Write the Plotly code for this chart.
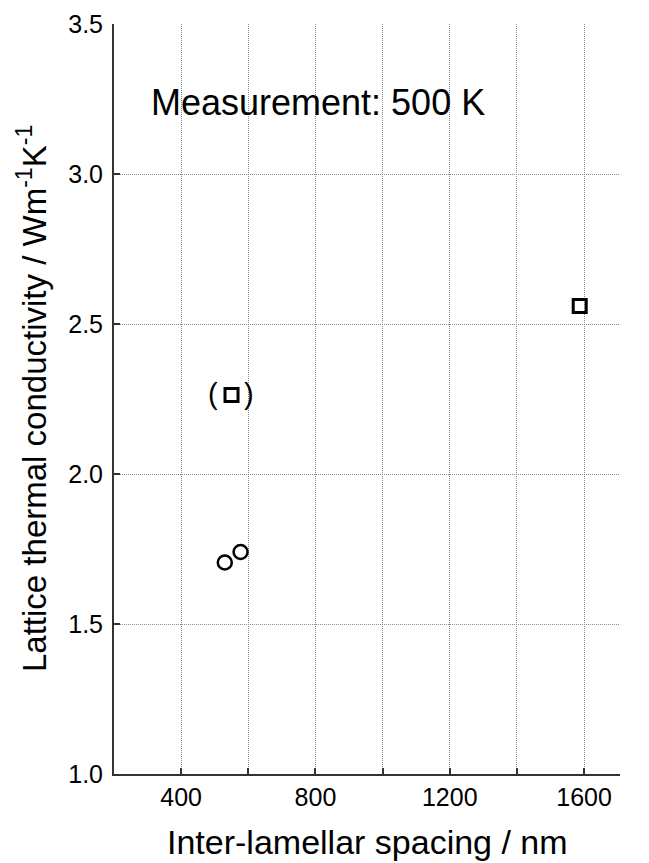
import plotly.graph_objects as go

# Data
circle_x = [530, 577]
circle_y = [1.705, 1.74]
square_x = [550, 1587]
square_y = [2.263, 2.56]
x_tickvals = [400, 600, 800, 1000, 1200, 1400, 1600]
x_ticktext = ["400", "", "800", "", "1200", "", "1600"]
y_tickvals = [1.0, 1.5, 2.0, 2.5, 3.0, 3.5]
y_ticktext = ["1.0", "1.5", "2.0", "2.5", "3.0", "3.5"]

font_family = "Liberation Sans, Arial, Helvetica, sans-serif"

fig = go.Figure()
fig.add_trace(go.Scatter(
    x=circle_x, y=circle_y, mode="markers",
    marker=dict(symbol="circle-open", size=14, color="black", line=dict(width=2.5, color="black")),
    showlegend=False, cliponaxis=False,
))
fig.add_trace(go.Scatter(
    x=square_x, y=square_y, mode="markers",
    marker=dict(symbol="square-open", size=13, color="black", line=dict(width=3, color="black")),
    showlegend=False, cliponaxis=False,
))

# parentheses around the first square
fig.add_annotation(x=square_x[0], y=square_y[0], text="(", xshift=-19, yshift=1,
                   showarrow=False, font=dict(size=29, color="black", family=font_family),
                   xanchor="center", yanchor="middle")
fig.add_annotation(x=square_x[0], y=square_y[0], text=")", xshift=17, yshift=1,
                   showarrow=False, font=dict(size=29, color="black", family=font_family),
                   xanchor="center", yanchor="middle")

fig.add_annotation(x=0.07, xref="paper", y=3.237, yref="y", text="Measurement: 500 K",
                   showarrow=False, font=dict(size=36, color="black", family=font_family),
                   xanchor="left", yanchor="middle")

# axis titles
fig.add_annotation(x=0.5, xref="paper", y=-0.0907, yref="paper",
                   text="Inter-lamellar spacing / nm", showarrow=False,
                   font=dict(size=34, color="black", family=font_family),
                   xanchor="center", yanchor="middle")
fig.add_annotation(x=-0.162, xref="paper", y=0.5, yref="paper",
                   text="Lattice thermal conductivity / Wm<sup>-1</sup>K<sup>-1</sup>",
                   showarrow=False, textangle=-90,
                   font=dict(size=33, color="black", family=font_family),
                   xanchor="center", yanchor="middle")

# the page body has an 8px default margin, so the figure is sized to fit inside it
fig.update_layout(
    width=641, height=855,
    margin=dict(l=106, r=29, t=16, b=89, autoexpand=False),
    paper_bgcolor="white", plot_bgcolor="white",
    font=dict(family=font_family, color="black"),
    xaxis=dict(
        range=[200, 1707], tickvals=x_tickvals, ticktext=x_ticktext,
        showgrid=True, gridcolor="#8a8a8a", griddash="1px,1px", gridwidth=1,
        showline=True, linecolor="#333333", linewidth=2,
        ticks="inside", ticklen=6, tickwidth=1.5, tickcolor="#333333",
        tickfont=dict(size=25, color="black"),
        automargin=False, zeroline=False,
    ),
    yaxis=dict(
        range=[1.0, 3.5], tickvals=y_tickvals, ticktext=y_ticktext,
        showgrid=True, gridcolor="#8a8a8a", griddash="1px,1px", gridwidth=1,
        showline=True, linecolor="#333333", linewidth=2,
        ticks="inside", ticklen=6, tickwidth=1.5, tickcolor="#333333",
        tickfont=dict(size=25, color="black"), ticklabelstandoff=4,
        automargin=False, zeroline=False,
    ),
)

fig.write_html("out.html")
